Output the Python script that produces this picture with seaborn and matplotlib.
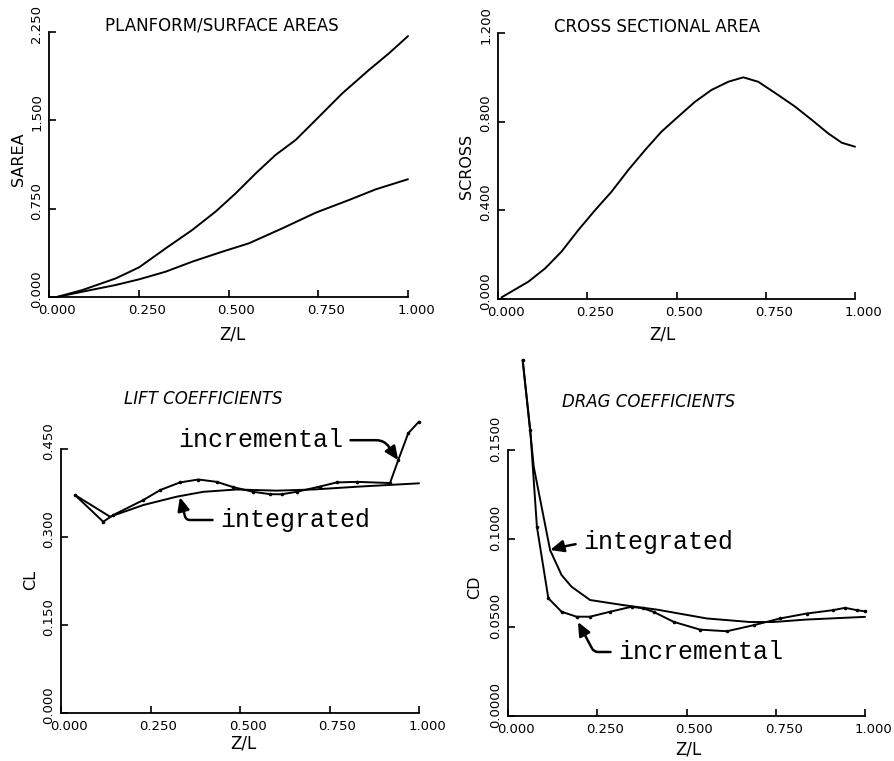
import matplotlib
matplotlib.use("Agg")
import matplotlib.pyplot as plt
import matplotlib.transforms as mtransforms
import seaborn as sns

# planform / surface areas
surface_z = [0.022, 0.093, 0.186, 0.251, 0.325, 0.399, 0.464, 0.52, 0.576, 0.631,
             0.687, 0.743, 0.817, 0.891, 0.947, 1.0]
surface_area = [0.0, 0.059, 0.158, 0.252, 0.413, 0.569, 0.725, 0.88, 1.05, 1.206,
                1.333, 1.503, 1.729, 1.927, 2.069, 2.215]
planform_z = [0.022, 0.093, 0.186, 0.251, 0.325, 0.399, 0.483, 0.557, 0.65, 0.743,
              0.836, 0.91, 1.0]
planform_area = [0.0, 0.045, 0.102, 0.150, 0.215, 0.30, 0.385, 0.456, 0.583, 0.716,
                 0.824, 0.914, 1.0]

# cross sectional area
cross_z = [0.010, 0.085, 0.132, 0.178, 0.225, 0.272, 0.318, 0.365, 0.412, 0.458,
           0.505, 0.552, 0.598, 0.645, 0.687, 0.729, 0.785, 0.832, 0.879, 0.925,
           0.963, 1.0]
cross_area = [0.0075, 0.078, 0.138, 0.214, 0.311, 0.401, 0.484, 0.582, 0.672, 0.755,
              0.823, 0.890, 0.943, 0.980, 1.0, 0.980, 0.920, 0.868, 0.808, 0.747,
              0.705, 0.687]

# lift coefficients
cl_inc_z = [0.039, 0.118, 0.146, 0.23, 0.277, 0.332, 0.384, 0.435, 0.481, 0.537,
            0.584, 0.616, 0.658, 0.723, 0.77, 0.826, 0.919, 0.942, 0.970, 1.0]
cl_inc = [0.3716, 0.326, 0.3375, 0.363, 0.380, 0.393, 0.398, 0.394, 0.385, 0.377,
          0.373, 0.3728, 0.377, 0.386, 0.393, 0.394, 0.392, 0.431, 0.477, 0.4966]
cl_int_z = [0.039, 0.137, 0.23, 0.323, 0.397, 0.491, 0.602, 0.705, 0.835, 1.0]
cl_int = [0.3716, 0.3346, 0.3545, 0.3687, 0.377, 0.381, 0.379, 0.381, 0.386, 0.3915]

# drag coefficients
cd_inc_z = [0.041, 0.0625, 0.081, 0.113, 0.150, 0.192, 0.23, 0.286, 0.346, 0.379,
            0.408, 0.464, 0.538, 0.613, 0.688, 0.762, 0.837, 0.911, 0.944, 0.977, 1.0]
cd_inc = [0.2008, 0.161, 0.1067, 0.0664, 0.0588, 0.056, 0.056, 0.0588, 0.0616, 0.0607,
          0.0587, 0.0531, 0.0487, 0.0478, 0.0512, 0.055, 0.0578, 0.0597, 0.061, 0.0597, 0.059]
cd_int_z = [0.041, 0.065, 0.072, 0.118, 0.150, 0.178, 0.23, 0.324, 0.417, 0.557,
            0.678, 0.743, 0.837, 1.0]
cd_int = [0.2008, 0.155, 0.1406, 0.0935, 0.0795, 0.0729, 0.0654, 0.0625, 0.060, 0.055,
          0.053, 0.053, 0.0544, 0.0559]

x_ticks = [0.0, 0.25, 0.5, 0.75, 1.0]
x_labels = ["0.000", "0.250", "0.500", "0.750", "1.000"]

sns.set_style("ticks")
plt.rcParams["font.family"] = ["DejaVu Sans"]

W, H = 894, 761
fig = plt.figure(figsize=(W / 100, H / 100), dpi=100)


def make_axes(x0, y0, x1, y1):
    # pixel box (left, top, right, bottom) -> axes
    return fig.add_axes([x0 / W, 1 - y1 / H, (x1 - x0) / W, (y1 - y0) / H])


def style_axes(ax, ymax, yticks, ylabels, yshift):
    ax.set_xlim(0, 1)
    ax.set_ylim(0, ymax)
    ax.set_xticks(x_ticks)
    ax.set_xticklabels(x_labels)
    ax.set_yticks(yticks)
    ax.set_yticklabels(ylabels, rotation=90, va="center")
    sns.despine(ax=ax)
    for s in ["left", "bottom"]:
        ax.spines[s].set_linewidth(1.3)
        ax.spines[s].set_color("black")
    ax.tick_params(direction="in", length=5, width=1.2, labelsize=9.5,
                   colors="black")
    ax.tick_params(axis="x", pad=5)
    ax.tick_params(axis="y", pad=4)
    dx = mtransforms.ScaledTranslation(0.08, 0, fig.dpi_scale_trans)
    for lab in ax.get_xticklabels():
        lab.set_transform(lab.get_transform() + dx)
    dy = mtransforms.ScaledTranslation(0, yshift, fig.dpi_scale_trans)
    for lab in ax.get_yticklabels():
        lab.set_transform(lab.get_transform() + dy)
    ax.set_xlabel("")
    ax.set_ylabel("")


def line(ax, x, y, dots=False):
    kw = dict(marker="o", markersize=2.6, markeredgewidth=0) if dots else {}
    sns.lineplot(x=x, y=y, ax=ax, color="black", lw=1.4, estimator=None,
                 sort=False, clip_on=False, **kw)


def ftext(x, y, s, **kw):
    fig.text(x / W, 1 - y / H, s, ha="center", va="center", color="black", **kw)


# top-left
ax1 = make_axes(49, 32, 408, 297)
line(ax1, surface_z, surface_area)
line(ax1, planform_z, planform_area)
style_axes(ax1, 2.25, [0, 0.75, 1.5, 2.25], ["0.000", "0.750", "1.500", "2.250"], 0.08)
ftext(222, 26, "PLANFORM/SURFACE AREAS", fontsize=12)
ftext(18, 159, "SAREA", fontsize=11.5, rotation=90)
ftext(232, 335, "Z/L", fontsize=12)

# top-right
ax2 = make_axes(498, 33, 855, 299)
line(ax2, cross_z, cross_area)
style_axes(ax2, 1.2, [0, 0.4, 0.8, 1.2], ["0.000", "0.400", "0.800", "1.200"], 0.08)
ftext(657, 27, "CROSS SECTIONAL AREA", fontsize=12)
ftext(466, 166, "SCROSS", fontsize=11.5, rotation=90)
ftext(662, 335, "Z/L", fontsize=12)

# bottom-left
ax3 = make_axes(61, 449, 419, 713)
line(ax3, cl_int_z, cl_int)
line(ax3, cl_inc_z, cl_inc, dots=True)
style_axes(ax3, 0.45, [0, 0.15, 0.3, 0.45], ["0.000", "0.150", "0.300", "0.450"], 0.08)
ftext(203, 399, "LIFT COEFFICIENTS", fontsize=12, style="italic")
ftext(31, 580, "CL", fontsize=11.5, rotation=90)
ftext(243, 743, "Z/L", fontsize=12)

# bottom-right
ax4 = make_axes(508, 450, 865, 716)
line(ax4, cd_int_z, cd_int)
line(ax4, cd_inc_z, cd_inc, dots=True)
style_axes(ax4, 0.15, [0, 0.05, 0.10, 0.15], ["0.0000", "0.0500", "0.1000", "0.1500"], 0.11)
ftext(649, 402, "DRAG COEFFICIENTS", fontsize=12, style="italic")
ftext(475, 587, "CD", fontsize=11.5, rotation=90)
ftext(688, 749, "Z/L", fontsize=12)

# annotations
note_font = dict(family="Liberation Mono", fontsize=18, color="black")
arrow = dict(arrowstyle="-|>,head_length=0.45,head_width=0.2", color="black",
             lw=1.8, shrinkA=3, shrinkB=0)

ax3.annotate("incremental", xy=(0.942, 0.431), xytext=(0.327, 0.465),
             ha="left", va="center", annotation_clip=False, **note_font,
             arrowprops=dict(arrow, connectionstyle="angle,angleA=0,angleB=-55,rad=8"))
ax3.annotate("integrated", xy=(0.332, 0.368), xytext=(0.444, 0.329),
             ha="left", va="center", annotation_clip=False, **note_font,
             arrowprops=dict(arrow, connectionstyle="angle,angleA=0,angleB=105,rad=4"))
ax4.annotate("integrated", xy=(0.118, 0.0936), xytext=(0.21, 0.0981),
             ha="left", va="center", annotation_clip=False, **note_font,
             arrowprops=dict(arrow, connectionstyle="arc3,rad=0.1"))
ax4.annotate("incremental", xy=(0.196, 0.053), xytext=(0.308, 0.0361),
             ha="left", va="center", annotation_clip=False, **note_font,
             arrowprops=dict(arrow, connectionstyle="angle,angleA=0,angleB=118,rad=4"))

fig.savefig("out.png", dpi=100, facecolor="white")
